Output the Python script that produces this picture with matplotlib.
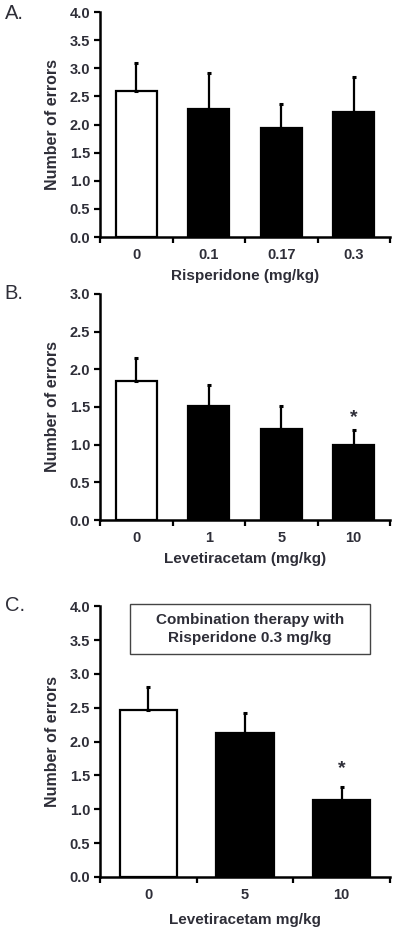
import matplotlib
matplotlib.use('Agg')
import matplotlib.pyplot as plt
from matplotlib.patches import Rectangle

plt.rcParams['font.family'] = ['Liberation Sans', 'DejaVu Sans']

# panel A: risperidone alone
risp_doses = ['0', '0.1', '0.17', '0.3']
risp_mean = [2.60, 2.28, 1.93, 2.23]
risp_sem = [0.49, 0.64, 0.43, 0.62]

# panel B: levetiracetam alone
lev_doses = ['0', '1', '5', '10']
lev_mean = [1.85, 1.51, 1.21, 0.99]
lev_sem = [0.30, 0.28, 0.30, 0.20]
lev_sig = [False, False, False, True]

# panel C: combination with risperidone 0.3 mg/kg
combo_doses = ['0', '5', '10']
combo_mean = [2.46, 2.12, 1.13]
combo_sem = [0.34, 0.30, 0.20]
combo_sig = [False, False, True]

txt = '#2e2e38'


def bar_panel(ax, doses, means, sems, ymax, xlabel, width, sig=None, star_off=13, xpad=5):
    n = len(doses)
    pos = list(range(n))
    colors = ['white'] + ['black'] * (n - 1)
    ax.bar(pos, means, width=width, color=colors, edgecolor='black', linewidth=1.6, zorder=2)
    ax.errorbar(pos, means, yerr=[[0] * n, sems], fmt='none', ecolor='black',
                elinewidth=1.6, capsize=1.5, capthick=2.2, zorder=3)
    if sig:
        for p, m, s, flag in zip(pos, means, sems, sig):
            if flag:
                ax.annotate('*', (p, m + s), xytext=(0, star_off), textcoords='offset points',
                            ha='center', va='center', fontsize=14, fontweight='bold', color=txt)
    ax.set_xlim(-0.5, n - 0.5)
    ax.set_ylim(0, ymax)
    ticks = [i * 0.5 for i in range(int(ymax * 2) + 1)]
    ax.set_yticks(ticks)
    ax.set_yticklabels(['%.1f' % t for t in ticks])
    ax.set_xticks(pos)
    ax.set_xticklabels(doses)
    ax.set_xticks([i - 0.5 for i in range(n + 1)], minor=True)
    ax.tick_params(axis='x', which='major', length=0, pad=8)
    ax.tick_params(axis='x', which='minor', length=4, width=1.6, direction='out')
    ax.tick_params(axis='y', length=4, width=1.6, direction='out', pad=3)
    for lab in ax.get_xticklabels() + ax.get_yticklabels():
        lab.set_fontsize(10.5)
        lab.set_fontweight('bold')
        lab.set_color(txt)
    for side in ['top', 'right']:
        ax.spines[side].set_visible(False)
    for side in ['left', 'bottom']:
        ax.spines[side].set_linewidth(1.8)
    ax.set_ylabel('Number of errors', fontsize=11.5, fontweight='bold', color=txt, labelpad=7)
    ax.set_xlabel(xlabel, fontsize=11, fontweight='bold', color=txt, labelpad=xpad)


fig = plt.figure(figsize=(4.0, 9.27), dpi=100)

axA = fig.add_axes([0.25, 0.7443, 0.725, 0.2427])
bar_panel(axA, risp_doses, risp_mean, risp_sem, 4.0, 'Risperidone (mg/kg)', 0.56)

axB = fig.add_axes([0.25, 0.439, 0.725, 0.244])
bar_panel(axB, lev_doses, lev_mean, lev_sem, 3.0, 'Levetiracetam (mg/kg)', 0.56, lev_sig,
          star_off=9)

axC = fig.add_axes([0.25, 0.054, 0.725, 0.292])
bar_panel(axC, combo_doses, combo_mean, combo_sem, 4.0, 'Levetiracetam mg/kg', 0.59, combo_sig,
          star_off=13, xpad=8)
axC.add_patch(Rectangle((0.103, 0.823), 0.828, 0.184, transform=axC.transAxes,
                        facecolor='white', edgecolor='#444444', linewidth=1.0, clip_on=False))
axC.text(0.517, 0.915, 'Combination therapy with\nRisperidone 0.3 mg/kg', transform=axC.transAxes,
         ha='center', va='center', fontsize=11, fontweight='bold', color=txt, linespacing=1.35)

for lab, y in [('A.', 0.985), ('B.', 0.683), ('C.', 0.347)]:
    fig.text(0.012, y, lab, fontsize=14.5, color=txt, va='center')

fig.savefig('out.png', dpi=100)
